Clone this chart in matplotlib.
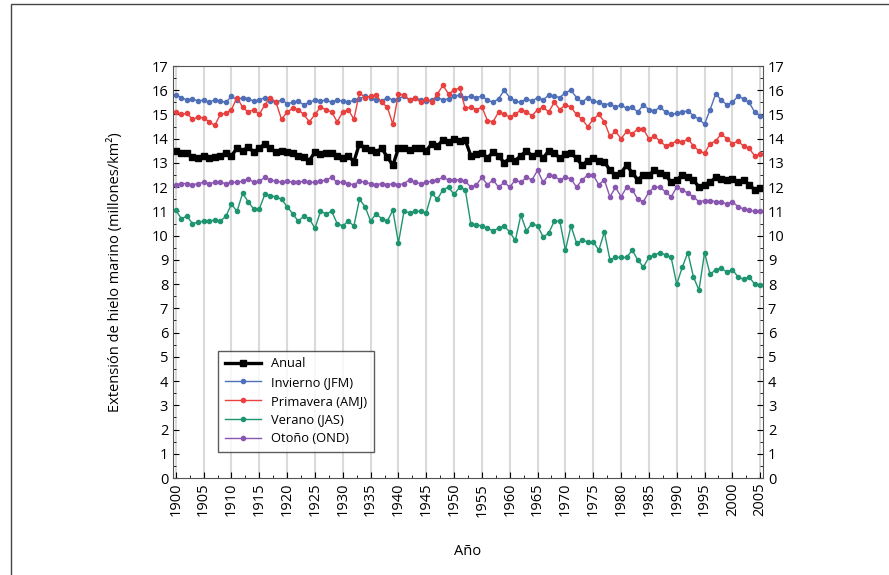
import matplotlib
matplotlib.use("Agg")
from matplotlib import pyplot as plt
from matplotlib.patches import Rectangle
from matplotlib.ticker import MultipleLocator

plt.rcParams['font.family'] = ['Open Sans', 'DejaVu Sans']

years = list(range(1900, 2006))

anual = [13.5, 13.4, 13.4, 13.25, 13.2, 13.3, 13.2, 13.25, 13.3, 13.4,
         13.3, 13.6, 13.5, 13.65, 13.45, 13.6, 13.8, 13.6, 13.45, 13.5,
         13.45, 13.4, 13.3, 13.25, 13.1, 13.45, 13.35, 13.4, 13.4, 13.3,
         13.2, 13.3, 13.05, 13.8, 13.6, 13.55, 13.45, 13.6, 13.25, 12.9,
         13.6, 13.6, 13.55, 13.6, 13.6, 13.5, 13.8, 13.7, 13.95, 13.85,
         14.0, 13.9, 13.95, 13.3, 13.35, 13.4, 13.2, 13.45, 13.3, 13.0,
         13.2, 13.1, 13.3, 13.5, 13.3, 13.4, 13.2, 13.5, 13.4, 13.2,
         13.35, 13.4, 13.2, 12.9, 13.1, 13.2, 13.1, 13.05, 12.7, 12.5,
         12.6, 12.9, 12.6, 12.3, 12.5, 12.5, 12.7, 12.6, 12.5, 12.2,
         12.3, 12.5, 12.4, 12.3, 12.0, 12.1, 12.2, 12.4, 12.35, 12.3,
         12.35, 12.2, 12.3, 12.1, 11.9, 11.95]

invierno = [15.8, 15.7, 15.6, 15.65, 15.55, 15.6, 15.5, 15.6, 15.55, 15.5,
            15.75, 15.6, 15.7, 15.65, 15.55, 15.6, 15.7, 15.55, 15.5, 15.6,
            15.45, 15.5, 15.55, 15.4, 15.5, 15.6, 15.55, 15.6, 15.5, 15.6,
            15.55, 15.5, 15.6, 15.65, 15.75, 15.7, 15.6, 15.55, 15.7, 15.6,
            15.65, 15.75, 15.6, 15.7, 15.6, 15.55, 15.6, 15.7, 15.6, 15.65,
            15.75, 15.8, 15.7, 15.75, 15.7, 15.75, 15.6, 15.5, 15.65, 16.0,
            15.7, 15.55, 15.5, 15.65, 15.55, 15.7, 15.6, 15.8, 15.75, 15.7,
            15.9, 16.0, 15.7, 15.5, 15.7, 15.55, 15.5, 15.4, 15.45, 15.3,
            15.4, 15.25, 15.3, 15.1, 15.4, 15.2, 15.15, 15.3, 15.1, 15.0,
            15.05, 15.1, 15.15, 14.95, 14.8, 14.6, 15.2, 15.85, 15.6, 15.4,
            15.5, 15.75, 15.65, 15.5, 15.1, 14.95]

primavera = [15.1, 15.0, 15.05, 14.8, 14.9, 14.85, 14.7, 14.55, 15.0, 15.05,
             15.2, 15.7, 15.3, 15.1, 15.2, 15.0, 15.4, 15.7, 15.5, 14.8,
             15.1, 15.25, 15.2, 15.0, 14.7, 15.0, 15.3, 15.2, 15.1, 14.7,
             15.1, 15.2, 14.8, 15.9, 15.7, 15.75, 15.8, 15.5, 15.3, 14.6,
             15.85, 15.8, 15.6, 15.7, 15.5, 15.65, 15.5, 15.85, 16.2, 15.85,
             16.0, 16.1, 15.25, 15.3, 15.2, 15.3, 14.75, 14.7, 15.1, 15.0,
             14.9, 15.0, 15.2, 15.1, 14.95, 15.2, 15.3, 15.1, 15.5, 15.2,
             15.4, 15.3, 15.0, 14.8, 14.5, 14.8, 15.0, 14.7, 14.1, 14.3,
             14.0, 14.3, 14.2, 14.4, 14.4, 14.0, 14.1, 13.9, 13.7, 13.8,
             13.9, 13.85, 14.0, 13.7, 13.5, 13.4, 13.8, 13.9, 14.2, 14.0,
             13.8, 13.9, 13.7, 13.6, 13.3, 13.35]

verano = [11.05, 10.7, 10.8, 10.5, 10.55, 10.6, 10.6, 10.65, 10.6, 10.8,
          11.3, 11.0, 11.75, 11.4, 11.1, 11.1, 11.7, 11.65, 11.6, 11.5,
          11.2, 10.9, 10.6, 10.8, 10.7, 10.3, 11.0, 10.9, 11.0, 10.5,
          10.4, 10.6, 10.4, 11.5, 11.2, 10.6, 10.9, 10.7, 10.6, 11.05,
          9.7, 11.0, 10.95, 11.0, 11.0, 10.95, 11.75, 11.5, 11.9, 12.0,
          11.7, 12.0, 11.9, 10.5, 10.45, 10.4, 10.3, 10.2, 10.3, 10.4,
          10.15, 9.8, 10.85, 10.2, 10.5, 10.4, 9.95, 10.1, 10.6, 10.6,
          9.4, 10.4, 9.7, 9.8, 9.75, 9.75, 9.4, 10.15, 9.0, 9.1,
          9.1, 9.1, 9.4, 9.0, 8.7, 9.1, 9.2, 9.3, 9.2, 9.1,
          8.0, 8.7, 9.3, 8.3, 7.75, 9.3, 8.4, 8.6, 8.65, 8.5,
          8.6, 8.3, 8.2, 8.3, 8.0, 7.95]

otono = [12.1, 12.15, 12.15, 12.1, 12.15, 12.2, 12.15, 12.2, 12.2, 12.15,
         12.2, 12.2, 12.25, 12.35, 12.2, 12.25, 12.4, 12.3, 12.25, 12.2,
         12.25, 12.2, 12.2, 12.25, 12.2, 12.2, 12.25, 12.3, 12.4, 12.2,
         12.2, 12.15, 12.1, 12.25, 12.2, 12.15, 12.1, 12.15, 12.1, 12.15,
         12.1, 12.15, 12.3, 12.2, 12.15, 12.2, 12.25, 12.3, 12.4, 12.3,
         12.3, 12.3, 12.25, 12.0, 12.1, 12.4, 12.1, 12.3, 12.0, 12.2,
         12.0, 12.3, 12.2, 12.4, 12.3, 12.7, 12.2, 12.5, 12.45, 12.3,
         12.4, 12.35, 12.0, 12.3, 12.5, 12.5, 12.1, 12.3, 11.6, 12.0,
         11.6, 12.0, 11.9, 11.5, 11.4, 11.8, 12.0, 12.0, 11.8, 11.6,
         12.0, 11.9, 11.75, 11.6, 11.4, 11.45, 11.45, 11.4, 11.4, 11.3,
         11.4, 11.2, 11.1, 11.05, 11.0, 11.0]

fig = plt.figure(figsize=(8.89, 5.75), dpi=100)
# outer frame of the figure
fig.patches.append(Rectangle((11 / 889, -0.05), 1.2, 1 - 4 / 575 + 0.05,
                             transform=fig.transFigure, fill=False,
                             edgecolor='#444444', linewidth=1.0))

ax = fig.add_axes([173 / 889, 1 - 478 / 575, 590 / 889, 412 / 575])

for x in range(1900, 2006, 5):
    ax.axvline(x, color='#dadada', linewidth=1.5, zorder=0)

ax.plot(years, invierno, color='#4f6fb8', marker='o', markersize=3,
        linewidth=1.0, label='Invierno (JFM)')
ax.plot(years, primavera, color='#e8413f', marker='o', markersize=3,
        linewidth=1.0, label='Primavera (AMJ)')
ax.plot(years, verano, color='#1f9470', marker='o', markersize=3,
        linewidth=1.0, label='Verano (JAS)')
ax.plot(years, otono, color='#8a57b0', marker='o', markersize=3,
        linewidth=1.0, label='Otoño (OND)')
ax.plot(years, anual, color='black', marker='s', markersize=3.8,
        linewidth=2.4, label='Anual')

ax.set_xlim(1899.5, 2005.5)
ax.set_ylim(0, 17)
ax.set_xticks(range(1900, 2006, 5))
ax.xaxis.set_minor_locator(MultipleLocator(2.5))
ax.set_yticks(range(0, 18))
ax.yaxis.set_minor_locator(MultipleLocator(0.5))
ax.tick_params(axis='x', rotation=90, direction='in', labelsize=10.5, length=4)
ax.tick_params(axis='y', direction='in', labelsize=10.5, length=4,
               right=True, labelright=True)
ax.tick_params(which='minor', direction='in', length=2, right=True)
for s in ax.spines.values():
    s.set_color('#555555')

ax.set_ylabel('Extensión de hielo marino (millones/km²)', fontsize=10.5, labelpad=20)
ax.set_xlabel('Año', fontsize=10.5, labelpad=20)

handles, labels = ax.get_legend_handles_labels()
order = [4, 0, 1, 2, 3]
leg = ax.legend([handles[i] for i in order], [labels[i] for i in order],
                loc='lower left', bbox_to_anchor=(0.066, 0.048), fontsize=9.3,
                frameon=True, fancybox=False, edgecolor='#333333',
                handlelength=2.8, borderpad=0.5, labelspacing=0.45)
leg.get_frame().set_linewidth(1.0)

fig.savefig('out.png', dpi=100)
